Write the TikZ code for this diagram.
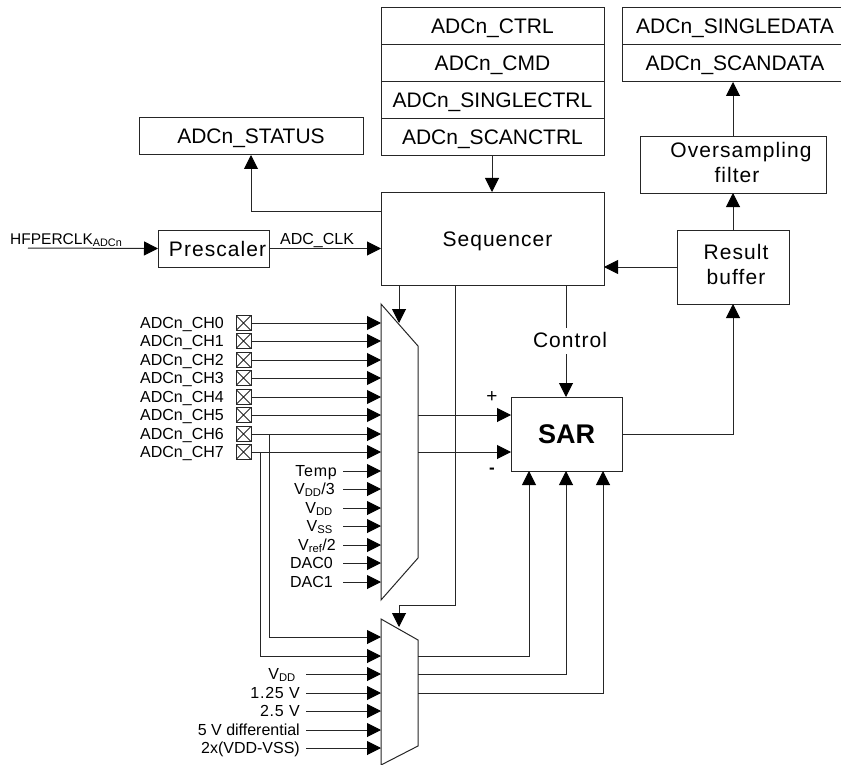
\documentclass[tikz,border=0pt]{standalone}
\usepackage{fontspec}
\setmainfont{Liberation Sans}
\usetikzlibrary{arrows.meta,calc}
\newcommand{\sbs}[1]{\textsubscript{#1}}
\tikzset{
  x=1pt,y=-1pt,
  wire/.style={line width=1pt,black!85},
  arr/.style={wire,-{Triangle[length=14pt,width=14pt,black]}},
  blk/.style={draw=black!85,line width=1pt,fill=white,inner sep=0pt,outer sep=0pt,align=center,anchor=north west},
  reg/.style={blk,minimum width=223pt,minimum height=37pt,text height=15pt,text depth=0pt,font=\fontsize{21}{24}\selectfont},
  spaced/.style={font=\fontsize{21}{24.5}\selectfont\addfontfeature{LetterSpace=5}},
  txt/.style={inner sep=0pt,anchor=base east,font=\fontsize{16}{18}\selectfont},
  txtsp/.style={txt,font=\fontsize{16}{18}\selectfont\addfontfeature{LetterSpace=5}},
  pin/.style={draw=black!85,line width=1pt,minimum size=15pt,inner sep=0pt,outer sep=0pt,path picture={\draw[line width=.8pt,black!85] (path picture bounding box.north west)--(path picture bounding box.south east) (path picture bounding box.north east)--(path picture bounding box.south west);}}
}
\begin{document}
\begin{tikzpicture}
\useasboundingbox (0,0) rectangle (841,765);
% top register stack
\node[reg] (ctrl) at (381,8) {ADCn\_CTRL};
\node[reg] (cmd) at (381,45) {ADCn\_CMD};
\node[reg] (sctrl) at (381,82) {ADCn\_SINGLECTRL};
\node[reg] (scctrl) at (381,119) {ADCn\_SCANCTRL};
\node[reg,minimum width=226pt] (sdata) at (622,8) {ADCn\_SINGLEDATA};
\node[reg,minimum width=226pt] (scdata) at (622,45) {ADCn\_SCANDATA};
\node[reg,minimum width=224pt] (status) at (139,118) {ADCn\_STATUS};
\node[blk,spaced,minimum width=186pt,minimum height=56pt,text depth=5pt] (over) at (640,137) {\hspace*{16pt}Oversampling\\\hspace*{8pt}filter};
\node[blk,spaced,minimum width=112pt,minimum height=74pt,text depth=5pt] (buf) at (677,230) {\hspace*{6pt}Result\\\hspace*{6pt}buffer};
\node[blk,spaced,minimum width=223pt,minimum height=93pt,text height=15pt,text depth=0pt] (seq) at (381,192) {\hspace*{10pt}Sequencer};
\node[blk,spaced,minimum width=111pt,minimum height=37pt,text height=15pt,text depth=0pt] (pres) at (158,230) {\hspace*{8pt}Prescaler};
\node[blk,minimum width=111pt,minimum height=74pt,font=\fontsize{27}{30}\selectfont\bfseries] (sar) at (511,397) {SAR};
% muxes
\coordinate (m1a) at (381,304); \coordinate (m1b) at (418,346); \coordinate (m1c) at (418,558); \coordinate (m1d) at (381,600);
\draw[wire,fill=white] (m1a)--(m1b)--(m1c)--(m1d)--cycle;
\coordinate (m2a) at (381,619); \coordinate (m2b) at (418,640); \coordinate (m2c) at (418,746); \coordinate (m2d) at (381,765);
\draw[wire,fill=white] (m2a)--(m2b)--(m2c)--(m2d)--cycle;
% clock
\coordinate (hf) at (28,248);
\node[txt,anchor=base west,font=\fontsize{15.5}{18}\selectfont] (hflab) at (10,244) {HFPERCLK\sbs{ADCn}};
\draw[arr] (hf)--(pres.west);
\coordinate (seqin) at (seq.west |- pres.east);
\draw[arr] (pres.east)--(seqin);
\node[txt,anchor=base west] (clklab) at (280,244) {ADC\_CLK};
% status and regs
\coordinate (seqout) at (381,211);
\coordinate (stat) at (251,155);
\draw[arr] (seqout)-|(stat);
\coordinate (regs) at (492,156);
\coordinate (seqtop) at (492,192);
\draw[arr] (regs)--(seqtop);
% channels
\foreach \i/\y in {0/323,1/341,2/360,3/378,4/397,5/415,6/434,7/452}{
  \node[pin] (p\i) at (243.5,\y) {};
  \node[txt,anchor=base west] (l\i) at (140,\y+5) {ADCn\_CH\i};
  \coordinate (mi\i) at (381,\y);
  \draw[arr] (p\i.east)--(mi\i);
}
\foreach \n/\t/\y/\r/\s in {a/{Temp}/471/337/txtsp,b/{V\sbs{DD}/3}/489/335/txt,c/{V\sbs{DD}}/508/333/txt,d/{V\sbs{SS}}/526/333/txt,e/{V\sbs{ref}/2}/545/336/txt,f/{DAC0}/563/333/txt,g/{DAC1}/582/333/txt}{
  \node[\s] (x\n) at (\r,\y+5) {\t};
  \draw[arr] (343,\y)--(381,\y);
}
\foreach \n/\t/\y/\r/\s in {a/{V\sbs{DD}}/674/296/txt,b/{1.25 V}/693/300/txtsp,c/{2.5 V}/711/300/txtsp,d/{5 V differential}/730/300/txt,e/{2x(VDD-VSS)}/748/300/txt}{
  \node[\s] (y\n) at (\r,\y+5) {\t};
  \draw[arr] (306,\y)--(381,\y);
}
\coordinate (c6) at (269,434); \coordinate (c7) at (260,452);
\coordinate (m6) at (381,637); \coordinate (m7) at (381,656);
\draw[arr] (c6)|-(m6);
\draw[arr] (c7)|-(m7);
% sequencer to muxes
\draw[arr] (399,285)--(399,323);
\draw[arr] (455,285)--(455,605)--(399,605)--(399,627);
% control
\node[inner sep=0pt,spaced] (ctl) at (570,340) {Control};
\draw[wire] (566,285)--(566,328);
\draw[arr] (566,354)--(566,397);
% to SAR
\draw[arr] (418,415)--(511,415);
\draw[arr] (418,452)--(511,452);
\node[inner sep=0pt,font=\fontsize{19}{20}\selectfont] (plus) at (492,397) {+};
\node[inner sep=0pt,font=\fontsize{17}{20}\selectfont\bfseries] (minus) at (492,471) {-};
\draw[arr] (418,656)-|(529,471);
\draw[arr] (418,674)-|(566,471);
\draw[arr] (418,693)-|(603,471);
% result
\draw[arr] (sar.east)-|(buf.south);
\coordinate (seqr) at (604,267);
\draw[arr] (buf.west |- seqr)--(seqr);
\draw[arr] (buf.north)--(over.south);
\coordinate (dataout) at (733,82);
\draw[arr] (over.north)--(dataout);
\end{tikzpicture}
\end{document}
